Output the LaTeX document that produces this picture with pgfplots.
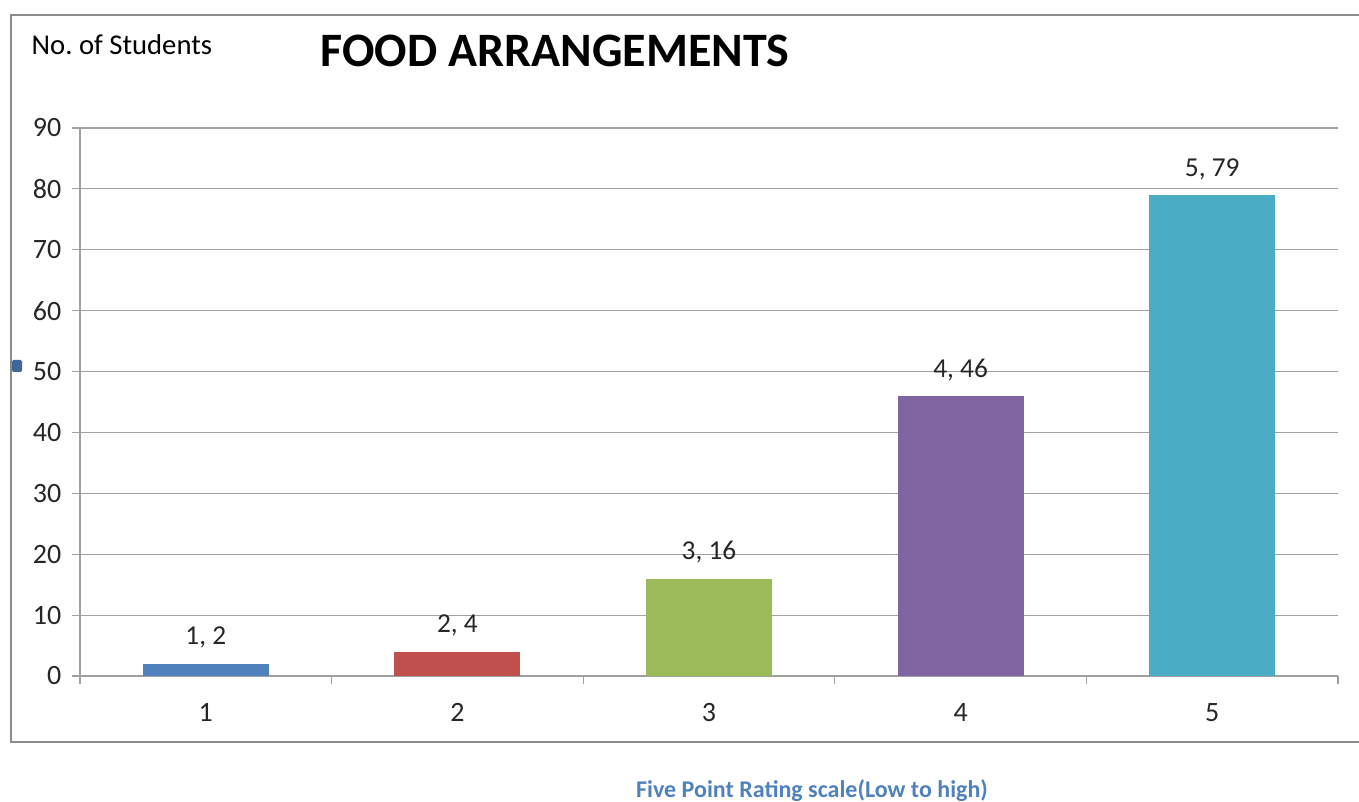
\documentclass[border=0pt]{standalone}
\usepackage{fontspec}
\setmainfont{Carlito}
\usepackage{pgfplots}
\pgfplotsset{compat=1.18}
\pgfkeys{/pgf/number format/assume math mode=true}
\definecolor{xlblue}{HTML}{4F81BD}
\definecolor{xlred}{HTML}{C0504D}
\definecolor{xlgreen}{HTML}{9BBB59}
\definecolor{xlpurple}{HTML}{8064A2}
\definecolor{xlaqua}{HTML}{4BACC6}
\definecolor{framegray}{HTML}{8C8C8C}
\definecolor{gridgray}{HTML}{A0A0A0}
\begin{document}
\begin{tikzpicture}[x=0.75pt,y=0.75pt]
\useasboundingbox (0,0) rectangle (1359,802);
\begin{scope}
\clip (0,0) rectangle (1359,802);
\draw[framegray, line width=2.2pt] (11,60) rectangle (1370,787);
\end{scope}
\fill[xlblue!80!black, rounded corners=1pt] (12,430) rectangle (22,442);
\node[anchor=west, font=\fontsize{21.5}{25}\selectfont] at (27,757) {No.\ of Students};
\node[font=\fontsize{36}{42}\selectfont\bfseries] at (555,751) {FOOD ARRANGEMENTS};
\node[font=\fontsize{18}{21}\selectfont\bfseries, text=xlblue] at (812,11) {Five Point Rating scale(Low to high)};
\begin{axis}[
  at={(60pt,94.5pt)}, anchor=south west,
  scale only axis, width=943.5pt, height=411pt,
  xmin=0.5, xmax=5.5, ymin=0, ymax=90,
  ybar, bar width=94.5pt, bar shift=0pt,
  axis lines*=left, axis line style={gridgray, line width=0.8pt},
  ymajorgrids, grid style={gridgray, line width=0.8pt},
  xtick={1,2,3,4,5}, ytick={0,10,...,90},
  minor xtick={0.5,1.5,...,5.5},
  tick align=outside, major tick length=6pt, minor tick length=6pt,
  major x tick style={draw=none},
  tick style={gridgray, line width=0.8pt},
  ticklabel style={font=\fontsize{21}{24}\selectfont, text=black!85},
  xticklabel style={yshift=-11pt},
  yticklabel style={xshift=-4.5pt},
  nodes near coords={\pgfmathprintnumber{\xval}, \pgfmathprintnumber{\pgfplotspointmeta}},
  visualization depends on={x \as \xval},
  every node near coord/.append style={font=\fontsize{20.5}{24}\selectfont, text=black!85, yshift=8pt},
  clip=false,
]
\addplot[fill=xlblue, draw=none] coordinates {(1,2)};
\addplot[fill=xlred, draw=none] coordinates {(2,4)};
\addplot[fill=xlgreen, draw=none] coordinates {(3,16)};
\addplot[fill=xlpurple, draw=none] coordinates {(4,46)};
\addplot[fill=xlaqua, draw=none] coordinates {(5,79)};
\end{axis}
\end{tikzpicture}
\end{document}
